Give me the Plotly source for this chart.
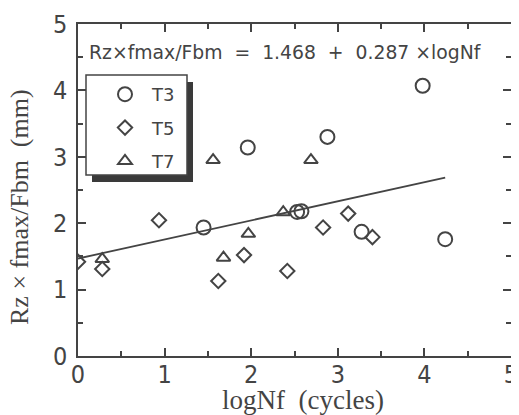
import plotly.graph_objects as go

# ---------------- data ----------------
t3_x = [1.45, 1.96, 2.53, 2.58, 2.88, 3.98, 3.275, 4.24]
t3_y = [1.935, 3.14, 2.17, 2.18, 3.30, 4.07, 1.87, 1.76]

t5_x = [0.0, 0.28, 0.935, 1.62, 1.917, 2.417, 2.83, 3.12, 3.40]
t5_y = [1.42, 1.31, 2.045, 1.13, 1.52, 1.28, 1.935, 2.145, 1.79]

t7_x = [0.28, 1.56, 1.68, 1.967, 2.37, 2.69]
t7_y = [1.46, 2.95, 1.48, 1.84, 2.165, 2.95]

fit_intercept = 1.468
fit_slope = 0.287

x_ticks = [0, 1, 2, 3, 4, 5]
y_ticks = [0, 1, 2, 3, 4, 5]

x_title = "logNf  (cycles)"
y_title = "Rz × fmax/Fbm  (mm)"
eq_text = "Rz×fmax/Fbm  =  1.468  +  0.287 ×logNf"

# ---------------- style ----------------
INK = "#444444"
SANS = "Liberation Sans Narrow, DejaVu Sans Condensed, Arial Narrow, Liberation Sans, Arial, sans-serif"
SANS2 = "DejaVu Sans, Liberation Sans, Arial, sans-serif"
SERIF = "Liberation Serif, Times New Roman, serif"

# page body has an 8px margin: the figure starts at (8, 8) of the window
OFF = 8
W, H = 519 - OFF, 415 - OFF
PLOT_L, PLOT_R, PLOT_T, PLOT_B = 78, 511, 24, 356          # window pixels
ML, MT = PLOT_L - OFF, PLOT_T - OFF
PW, PH = PLOT_R - PLOT_L, PLOT_B - PLOT_T
MR, MB = W - ML - PW, H - MT - PH


def px2paper_x(px):
    return (px - PLOT_L) / PW


def px2paper_y(py):
    return (PLOT_B - py) / PH


fig = go.Figure()

# regression line
all_x = t3_x + t5_x + t7_x
fx = [min(all_x), max(all_x)]
fy = [fit_intercept + fit_slope * v for v in fx]
fig.add_trace(go.Scatter(x=fx, y=fy, mode="lines", line=dict(color=INK, width=1.8),
                         showlegend=False, hoverinfo="skip"))

mk_line = dict(color=INK, width=2)
fig.add_trace(go.Scatter(x=t3_x, y=t3_y, mode="markers", name="T3", legendgroup="a",
                         marker=dict(symbol="circle-open", size=14, color=INK, line=mk_line)))
fig.add_trace(go.Scatter(x=t5_x, y=t5_y, mode="markers", name="T5", legendgroup="b",
                         marker=dict(symbol="diamond-open", size=11, color=INK, line=mk_line)))
fig.add_trace(go.Scatter(x=t7_x, y=t7_y, mode="markers", name="T7", legendgroup="c",
                         marker=dict(symbol="triangle-up-open", size=12, color=INK, line=mk_line)))

axis_common = dict(
    showline=True, linecolor=INK, linewidth=1.6, mirror="ticks",
    ticks="inside", ticklen=8, tickwidth=1.5, tickcolor=INK,
    showgrid=False, zeroline=False, automargin=False,
    tickfont=dict(family=SANS, size=25, color=INK),
    minor=dict(ticks="inside", ticklen=5, tickwidth=1.5, tickcolor=INK, dtick=0.5, showgrid=False),
)

fig.update_xaxes(range=[0, 5], tickvals=x_ticks, ticktext=[str(v) for v in x_ticks],
                 ticklabelstandoff=-5, **axis_common)
fig.update_yaxes(range=[0, 5], tickvals=y_ticks, ticktext=[str(v) for v in y_ticks],
                 ticklabelstandoff=4, **axis_common)

# legend box: shadow + white frame (shapes), legend itself transparent on top
box_l, box_t, box_r, box_b = 86, 75, 187, 175
sh_dx, sh_dy = 6, 7
shapes = [
    dict(type="rect", xref="paper", yref="paper", layer="above",
         x0=px2paper_x(box_l + sh_dx), x1=px2paper_x(box_r + sh_dx),
         y0=px2paper_y(box_b + sh_dy), y1=px2paper_y(box_t + sh_dy),
         fillcolor="#3a3a3a", line=dict(width=0)),
    dict(type="rect", xref="paper", yref="paper", layer="above",
         x0=px2paper_x(box_l), x1=px2paper_x(box_r),
         y0=px2paper_y(box_b), y1=px2paper_y(box_t),
         fillcolor="white", line=dict(color=INK, width=1.5)),
]

annotations = [
    dict(text=eq_text, xref="paper", yref="paper", x=px2paper_x(285), y=px2paper_y(53),
         xanchor="center", yanchor="middle", showarrow=False,
         font=dict(family=SANS2, size=18.8, color=INK)),
    dict(text=x_title, xref="paper", yref="paper", x=px2paper_x(303), y=px2paper_y(400),
         xanchor="center", yanchor="middle", showarrow=False,
         font=dict(family=SERIF, size=27, color=INK)),
    dict(text=y_title, xref="paper", yref="paper", x=px2paper_x(19), y=px2paper_y(207),
         xanchor="center", yanchor="middle", showarrow=False, textangle=-90,
         font=dict(family=SERIF, size=26, color=INK)),
]

fig.update_layout(
    template="none",
    width=W, height=H,
    margin=dict(l=ML, r=MR, t=MT, b=MB, pad=0, autoexpand=False),
    paper_bgcolor="white", plot_bgcolor="white",
    showlegend=True,
    legend=dict(x=px2paper_x(98), y=px2paper_y(76), xanchor="left", yanchor="top",
                bgcolor="rgba(0,0,0,0)", borderwidth=0,
                font=dict(family=SANS2, size=18, color=INK),
                itemwidth=44, tracegroupgap=7, traceorder="grouped"),
    shapes=shapes,
    annotations=annotations,
)

fig.write_html("out.html")
